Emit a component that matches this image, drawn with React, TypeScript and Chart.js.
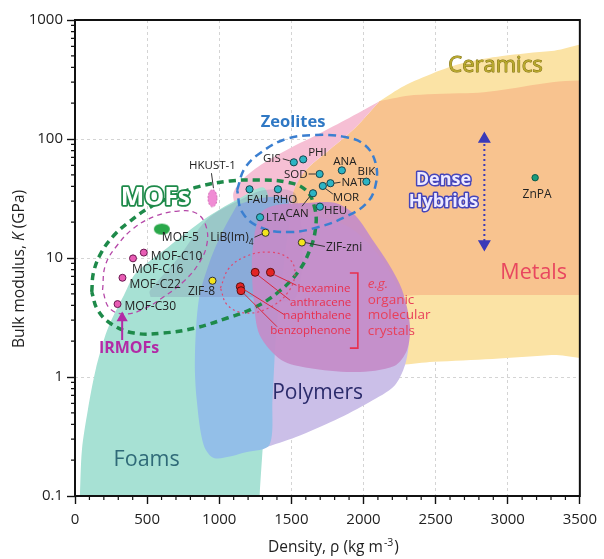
import { useEffect, useRef } from "react";
import { Chart, registerables } from "chart.js";

Chart.register(...registerables);

const FONT = "'Open Sans', 'Noto Sans', sans-serif";

// ---------- axes ----------
const xMin = 0;
const xMax = 3500;
const xTickStep = 500;
const yTickValues = [0.1, 1, 10, 100, 1000];
const yTickLabels = ["0.1", "1", "10", "100", "1000"];

// ---------- material families (density kg/m3, bulk modulus GPa) ----------
const zeoliteNames = ["GIS", "PHI", "ANA", "SOD", "NAT", "MOR", "BIK", "FAU", "RHO", "CAN", "HEU", "LTA"];
const zeoliteDensity = [1517, 1582, 1850, 1696, 1771, 1718, 2020, 1210, 1407, 1650, 1698, 1283];
const zeoliteModulus = [63.7, 67.4, 54.5, 50.8, 42.5, 40.3, 43.8, 37.8, 37.8, 35.0, 27.0, 22.0];

const zifNames = ["LiB(Im)4", "ZIF-zni", "ZIF-8"];
const zifDensity = [1321, 1573, 953];
const zifModulus = [16.3, 13.5, 6.44];

const organicNames = ["hexamine", "anthracene", "naphthalene", "benzophenone"];
const organicDensity = [1355, 1249, 1146, 1151];
const organicModulus = [7.58, 7.58, 5.74, 5.31];

const irmofNames = ["MOF-C10", "MOF-C16", "MOF-C22", "MOF-C30"];
const irmofDensity = [477, 402, 329, 295];
const irmofModulus = [11.1, 9.93, 6.82, 4.1];

const mof5Names = ["MOF-5"];
const mof5Density = [602];
const mof5Modulus = [17.5];

const hkustNames = ["HKUST-1"];
const hkustDensity = [953];
const hkustModulus = [31.8];

const znpaNames = ["ZnPA"];
const znpaDensity = [3190];
const znpaModulus = [47.3];

// ---------- property-space regions [density, modulus] ----------
const ceramicsRegion = [[2111, 208], [2281, 279], [2486, 359], [2690, 435], [2962, 498], [3303, 549], [3711, 593], [3711, 1.62], [3303, 1.53], [2894, 1.42], [2486, 1.34], [2261, 1.26], [1805, 1.15], [1737, 11.7], [1805, 66.7], [2111, 208]];
const metalsRegion = [[2111, 208], [2349, 234], [2758, 244], [3711, 253], [3711, 4.89], [3500, 4.89], [3000, 4.89], [2400, 4.89], [1737, 4.89], [1532, 17.2], [1512, 37.3], [1600, 54.8], [1737, 76.3], [1941, 124], [2111, 208]];
const zeoliteRegion = [[2111, 208], [1873, 144.5], [1648, 104], [1532, 89.1], [1308, 62.8], [1158, 45.2], [1096, 33.8], [1158, 23.0], [1464, 23.0], [1519, 37.3], [1600, 54.8], [1737, 76.3], [1941, 124], [2111, 208]];
const foamRegion = [[27, 0.063], [34, 0.1], [48, 0.244], [89, 0.528], [143, 1.15], [211, 2.25], [259, 3.13], [340, 4.89], [422, 7.48], [647, 12.4], [919, 22.1], [1158, 32.6], [1314, 38.7], [1369, 17.2], [1342, 4.43], [1328, 0.944], [1308, 0.338], [1280, 0.1], [1274, 0.063], [27, 0.063]];
const polymerRegion = [[1308, 0.253], [1532, 0.313], [1805, 0.435], [2043, 0.617], [2213, 0.84], [2288, 1.26], [2315, 2.05], [2295, 3.66], [2213, 6.5], [2077, 11.7], [1873, 18.9], [1532, 23.0], [1308, 17.2], [1308, 0.253]];
const elastomerRegion = [[1124, 27.9], [1294, 31.9], [1478, 30.7], [1451, 9.6], [1396, 2.48], [1369, 0.641], [1348, 0.268], [1192, 0.234], [967, 0.208], [892, 0.268], [844, 0.641], [831, 1.39], [858, 4.43], [933, 9.25], [1028, 17.2], [1124, 27.9]];
const hybridOverlayRegion = [[524, 4.7], [518, 5.28], [715, 10], [919, 21.3], [1158, 31.3], [1314, 37.3], [1532, 33.8], [1532, 4.7], [1200, 4.7], [800, 4.7], [524, 4.7]];
const organicRegion = [[1246, 16.5], [1226, 9.6], [1239, 4.43], [1280, 2.25], [1430, 1.39], [1621, 1.19], [1941, 1.1], [2213, 1.24], [2302, 1.69], [2322, 2.74], [2268, 5.38], [2179, 8.73], [2077, 13.4], [1941, 23.0], [1805, 29.0], [1600, 29.0], [1396, 27.9], [1294, 24.4], [1246, 16.5]];

// ---------- dashed envelopes ----------
const mofEnvelope = [[116, 5.18], [129, 7.62], [184, 11.2], [272, 15.6], [375, 20.1], [511, 26.3], [681, 33.2], [851, 39.6], [1076, 44.4], [1273, 45.2], [1464, 43.5], [1600, 37.3], [1662, 26.3], [1668, 17.9], [1628, 11.7], [1546, 7.62], [1410, 5.18], [1239, 3.8], [1056, 3.13], [831, 2.58], [613, 2.34], [409, 2.34], [252, 2.79], [157, 3.66], [116, 5.18]];
const irmofEnvelope = [[191, 5.38], [211, 8.73], [293, 12.8], [409, 17.9], [558, 22.5], [715, 24.8], [838, 23.9], [906, 18.9], [913, 12.8], [851, 8.73], [749, 6.28], [613, 4.7], [477, 3.73], [340, 3.38], [238, 3.8], [191, 5.38]];
const zeoliteEnvelope = [[1124, 37.3], [1178, 57.0], [1294, 77.8], [1464, 100], [1668, 108], [1873, 104], [2009, 89.1], [2084, 62.8], [2084, 41.0], [2023, 29.0], [1873, 22.1], [1689, 18.2], [1485, 16.5], [1280, 18.2], [1158, 24.4], [1124, 37.3]];
const organicEnvelope = [[1008, 5.6], [1069, 8.24], [1192, 10.4], [1342, 11.2], [1478, 10.0], [1525, 7.62], [1478, 5.18], [1342, 3.8], [1178, 3.45], [1056, 4.03], [1008, 5.6]];

// ---------- arrows ----------
const denseHybridRange = [[2838, 100], [2838, 13.1]];
const irmofArrow = [[327, 2.05], [327, 3.13]];

// ---------- text anchors (data coordinates) ----------
const regionLabelText = ["Ceramics", "Zeolites", "MOFs", "Dense", "Hybrids", "Metals", "Polymers", "Foams", "IRMOFs"];
const regionLabelX = [2915, 1512, 558, 2554, 2554, 3180, 1682, 497, 375];
const regionLabelY = [410, 139, 31.8, 45.2, 29.6, 7.48, 0.734, 0.201, 1.75];
const organicNoteLines = ["e.g.", "organic", "molecular", "crystals"];
const organicNoteAnchor = [2029, 6.05];
const organicBracket = [1961, 7.48, 1.75];

// ---------- label layout (pixel offsets from marks) ----------
type Lay = { dx: number; dy: number; align: CanvasTextAlign; leader?: number[] };
const zeoliteLayout: Lay[] = [
  { dx: -13, dy: -4, align: "right", leader: [-11, -3.5, -4, -1.5] },
  { dx: 5, dy: -7, align: "left" },
  { dx: 3, dy: -9, align: "center" },
  { dx: -12, dy: 1, align: "right", leader: [-11, 0, -4, 0] },
  { dx: 11, dy: -1, align: "left", leader: [3.5, 0, 10, -1] },
  { dx: 10, dy: 11.5, align: "left", leader: [2.5, 2.5, 10, 8] },
  { dx: 0, dy: -10, align: "center" },
  { dx: 8, dy: 10, align: "center" },
  { dx: 7, dy: 10, align: "center" },
  { dx: -16, dy: 20, align: "center", leader: [-11, 13, -3, 3] },
  { dx: 4, dy: 4, align: "left" },
  { dx: 6, dy: 0, align: "left" },
];
const zifLayout: Lay[] = [
  { dx: -12, dy: 5, align: "right", leader: [-11, 4.5, -3, 1] },
  { dx: 24, dy: 5, align: "left", leader: [3, 0, 23, 4] },
  { dx: -11, dy: 11, align: "center" },
];
const organicLayout: Lay[] = [
  { dx: 80, dy: 16, align: "right", leader: [3, 2, 26, 13] },
  { dx: 96, dy: 30, align: "right", leader: [3, 3, 35, 28] },
  { dx: 111, dy: 29, align: "right", leader: [4, 3, 44, 28] },
  { dx: 110, dy: 40, align: "right", leader: [3, 3, 36, 36] },
];
const irmofLayout: Lay[] = [
  { dx: 7, dy: 4, align: "left" },
  { dx: -1, dy: 11, align: "left" },
  { dx: 7, dy: 7, align: "left" },
  { dx: 7, dy: 2, align: "left" },
];
const mof5Layout: Lay[] = [{ dx: 0, dy: 8, align: "left" }];
const hkustLayout: Lay[] = [{ dx: 0, dy: -32, align: "center", leader: [-1, -25, 1, -10] }];
const znpaLayout: Lay[] = [{ dx: 2, dy: 17, align: "center" }];

type RStyle = { size: number; bold?: boolean; fill: string; stroke?: string; sw?: number };
const regionLabelStyle: Record<string, RStyle> = {
  Ceramics: { size: 22, fill: "#b8a82c", stroke: "#7a6c10", sw: 0.9 },
  Zeolites: { size: 16.5, bold: true, fill: "#2f78c4" },
  MOFs: { size: 25, bold: true, fill: "#ffffff", stroke: "#1e8a4a", sw: 3.5 },
  Dense: { size: 18, bold: true, fill: "#eeeaff", stroke: "#4545bb", sw: 3 },
  Hybrids: { size: 18, bold: true, fill: "#eeeaff", stroke: "#4545bb", sw: 3 },
  Metals: { size: 21.5, fill: "#e8475f" },
  Polymers: { size: 21, fill: "#2b2b6b" },
  Foams: { size: 21.5, fill: "#2f6a78" },
  IRMOFs: { size: 16, bold: true, fill: "#b22aa6" },
};

const poly = (arr: number[][]) => arr.map(([x, y]) => ({ x, y }));
const pts = (xs: number[], ys: number[]) => xs.map((x, i) => ({ x, y: ys[i] }));

function drawText(ctx: CanvasRenderingContext2D, s: string, x: number, y: number, font: string, color: string, align: CanvasTextAlign, stroke?: string, sw?: number) {
  ctx.font = font;
  ctx.textAlign = align;
  ctx.textBaseline = "middle";
  if (stroke) {
    ctx.lineJoin = "round";
    ctx.strokeStyle = stroke;
    ctx.lineWidth = sw || 1;
    ctx.strokeText(s, x, y);
  }
  ctx.fillStyle = color;
  ctx.fillText(s, x, y);
}

const annotations = {
  id: "annotations",
  afterDraw(chart: any) {
    const { ctx, chartArea: a, scales } = chart;
    const X = (v: number) => scales.x.getPixelForValue(v);
    const Y = (v: number) => scales.y.getPixelForValue(v);
    ctx.save();

    // minor ticks
    ctx.strokeStyle = "#111";
    ctx.lineWidth = 1.2;
    ctx.beginPath();
    for (let v = 100; v < xMax; v += 100) {
      if (v % xTickStep === 0) continue;
      const p = X(v);
      ctx.moveTo(p, a.bottom);
      ctx.lineTo(p, a.bottom + 4);
    }
    for (let d = 0; d < 4; d++) {
      for (let k = 2; k < 10; k++) {
        const p = Y(yTickValues[d] * k);
        ctx.moveTo(a.left - 4, p);
        ctx.lineTo(a.left, p);
      }
    }
    ctx.stroke();

    // frame
    ctx.lineWidth = 2;
    ctx.strokeStyle = "#111";
    ctx.strokeRect(a.left, a.top, a.right - a.left, a.bottom - a.top);

    // point labels
    const group = (names: string[], xs: number[], ys: number[], lay: Lay[], size: number, color: string, leaderColor: string) => {
      names.forEach((name, i) => {
        const px = X(xs[i]);
        const py = Y(ys[i]);
        const L = lay[i];
        if (L.leader) {
          ctx.strokeStyle = leaderColor;
          ctx.lineWidth = 1;
          ctx.beginPath();
          ctx.moveTo(px + L.leader[0], py + L.leader[1]);
          ctx.lineTo(px + L.leader[2], py + L.leader[3]);
          ctx.stroke();
        }
        const m = name.match(/^(.*\))(\d)$/);
        if (m) {
          ctx.font = `${size}px ${FONT}`;
          const w1 = ctx.measureText(m[1]).width;
          ctx.font = `${size * 0.7}px ${FONT}`;
          const w2 = ctx.measureText(m[2]).width;
          const tot = w1 + w2;
          let sx = px + L.dx;
          if (L.align === "right") sx -= tot;
          else if (L.align === "center") sx -= tot / 2;
          drawText(ctx, m[1], sx, py + L.dy, `${size}px ${FONT}`, color, "left");
          drawText(ctx, m[2], sx + w1, py + L.dy + 5, `${size * 0.7}px ${FONT}`, color, "left");
        } else {
          drawText(ctx, name, px + L.dx, py + L.dy, `${size}px ${FONT}`, color, L.align);
        }
      });
    };
    group(zeoliteNames, zeoliteDensity, zeoliteModulus, zeoliteLayout, 11.5, "#222", "#333");
    group(zifNames, zifDensity, zifModulus, zifLayout, 12, "#222", "#333");
    group(organicNames, organicDensity, organicModulus, organicLayout, 11.5, "#e8304e", "#d8283e");
    group(irmofNames, irmofDensity, irmofModulus, irmofLayout, 12, "#222", "#333");
    group(mof5Names, mof5Density, mof5Modulus, mof5Layout, 12, "#222", "#333");
    group(hkustNames, hkustDensity, hkustModulus, hkustLayout, 11.5, "#222", "#333");
    group(znpaNames, znpaDensity, znpaModulus, znpaLayout, 12, "#222", "#333");

    // organic note + bracket
    const bx = X(organicBracket[0]);
    const bt = Y(organicBracket[1]);
    const bb = Y(organicBracket[2]);
    ctx.strokeStyle = "#e8304e";
    ctx.lineWidth = 1.6;
    ctx.beginPath();
    ctx.moveTo(bx - 8, bt);
    ctx.lineTo(bx, bt);
    ctx.lineTo(bx, bb);
    ctx.lineTo(bx - 8, bb);
    ctx.stroke();
    const nx = X(organicNoteAnchor[0]);
    const ny = Y(organicNoteAnchor[1]);
    organicNoteLines.forEach((s, i) => {
      const f = i === 0 ? `italic 13.5px ${FONT}` : `13.5px ${FONT}`;
      drawText(ctx, s, nx, ny + i * 15.7, f, "#e8405a", "left");
    });

    // region names
    regionLabelText.forEach((s, i) => {
      const st = regionLabelStyle[s];
      const f = `${st.bold ? "bold " : ""}${st.size}px ${FONT}`;
      drawText(ctx, s, X(regionLabelX[i]), Y(regionLabelY[i]), f, st.fill, "center", st.stroke, st.sw);
    });

    // axis titles
    const f1 = `15.5px ${FONT}`;
    const fs = `10.5px ${FONT}`;
    const xt1 = "Density, \u03c1 (kg m";
    const xt2 = "-3";
    const xt3 = ")";
    ctx.font = f1;
    const w1 = ctx.measureText(xt1).width;
    const w3 = ctx.measureText(xt3).width;
    ctx.font = fs;
    const w2 = ctx.measureText(xt2).width;
    const sx = (a.left + a.right) / 2 + 5 - (w1 + w2 + w3) / 2;
    const ty = a.bottom + 52;
    drawText(ctx, xt1, sx, ty, f1, "#222", "left");
    drawText(ctx, xt2, sx + w1 + 1, ty - 5, fs, "#222", "left");
    drawText(ctx, xt3, sx + w1 + w2 + 2, ty, f1, "#222", "left");

    ctx.save();
    ctx.translate(20, (a.top + a.bottom) / 2 + 11);
    ctx.rotate(-Math.PI / 2);
    const yt1 = "Bulk modulus, ";
    const yt2 = "K";
    const yt3 = " (GPa)";
    const fi = `italic 15.5px ${FONT}`;
    ctx.font = f1;
    const v1 = ctx.measureText(yt1).width;
    const v3 = ctx.measureText(yt3).width;
    ctx.font = fi;
    const v2 = ctx.measureText(yt2).width;
    const s0 = -(v1 + v2 + v3) / 2;
    drawText(ctx, yt1, s0, 0, f1, "#222", "left");
    drawText(ctx, yt2, s0 + v1, 0, fi, "#222", "left");
    drawText(ctx, yt3, s0 + v1 + v2, 0, f1, "#222", "left");
    ctx.restore();

    ctx.restore();
  },
};

function blobCanvas(w: number, h: number, fill: string, stroke?: string) {
  const c = document.createElement("canvas");
  c.width = w;
  c.height = h;
  const g = c.getContext("2d")!;
  g.beginPath();
  g.ellipse(w / 2, h / 2, w / 2 - 1, h / 2 - 1, 0, 0, Math.PI * 2);
  g.fillStyle = fill;
  g.fill();
  if (stroke) {
    g.setLineDash([2, 1.5]);
    g.strokeStyle = stroke;
    g.lineWidth = 1;
    g.stroke();
  }
  return c;
}

export default function App() {
  const ref = useRef<HTMLCanvasElement>(null);
  useEffect(() => {
    document.body.style.margin = "0";
    const canvas = ref.current!;
    const area = (data: number[][], color: string, order: number) => ({
      data: poly(data),
      fill: "shape",
      backgroundColor: color,
      borderWidth: 0,
      pointRadius: 0,
      tension: 0.3,
      capBezierPoints: false,
      order,
    });
    const dashed = (data: number[][], color: string, width: number, dash: number[], order: number) => ({
      data: poly(data),
      fill: false,
      borderColor: color,
      borderWidth: width,
      borderDash: dash,
      pointRadius: 0,
      tension: 0.4,
      capBezierPoints: false,
      order,
    });
    const dots = (xs: number[], ys: number[], fill: string, stroke: string, r: number, order: number) => ({
      data: pts(xs, ys),
      showLine: false,
      pointRadius: r,
      pointBackgroundColor: fill,
      pointBorderColor: stroke,
      pointBorderWidth: 1,
      order,
    });

    const chart = new Chart(canvas, {
      type: "line",
      data: {
        datasets: [
          area(ceramicsRegion, "#fbe3a5", 100),
          area(metalsRegion, "#f8c38f", 99),
          area(zeoliteRegion, "#f6bfd4", 98),
          area(foamRegion, "#a7e1d4", 97),
          area(polymerRegion, "#cbbfe8", 96),
          area(elastomerRegion, "#93bfe8", 95),
          area(hybridOverlayRegion, "rgba(95,80,140,0.17)", 94),
          area(organicRegion, "rgba(196,140,200,0.93)", 93),
          dashed(mofEnvelope, "#1e8a4a", 3.5, [7, 5], 50),
          dashed(irmofEnvelope, "#b548a8", 1.3, [5, 4], 49),
          dashed(zeoliteEnvelope, "#3b7fd0", 2.5, [8, 5], 48),
          dashed(organicEnvelope, "#e04870", 1.2, [2, 3], 47),
          {
            data: poly(denseHybridRange),
            borderColor: "#3a3ab8",
            borderWidth: 2,
            borderDash: [2, 3],
            pointStyle: "triangle",
            pointRadius: 5.5,
            pointRotation: [0, 180],
            pointBackgroundColor: "#3a3ab8",
            pointBorderColor: "#3a3ab8",
            order: 40,
          },
          {
            data: poly(irmofArrow),
            borderColor: "#b22aa6",
            borderWidth: 2,
            pointStyle: "triangle",
            pointRadius: [0, 4.5],
            pointBackgroundColor: "#b22aa6",
            pointBorderColor: "#b22aa6",
            order: 39,
          },
          dots(zeoliteDensity, zeoliteModulus, "#2cb4c4", "#17424a", 3.6, 5),
          dots(zifDensity, zifModulus, "#f3e41c", "#333333", 3.6, 5),
          dots(organicDensity, organicModulus, "#e32424", "#5a1010", 4, 5),
          dots(irmofDensity, irmofModulus, "#e85cb4", "#6a1850", 3.5, 5),
          dots(znpaDensity, znpaModulus, "#1a9c7c", "#0d5a48", 3.2, 5),
          {
            data: pts(mof5Density, mof5Modulus),
            showLine: false,
            pointRadius: 8,
            pointStyle: blobCanvas(18, 13, "#2aa84a"),
            order: 6,
          },
          {
            data: pts(hkustDensity, hkustModulus),
            showLine: false,
            pointRadius: 8,
            pointStyle: blobCanvas(11, 19, "#f08cd4", "#d060b0"),
            order: 6,
          },
        ] as any,
      },
      options: {
        animation: false,
        responsive: true,
        maintainAspectRatio: false,
        devicePixelRatio: 1,
        events: [],
        layout: { padding: { top: 20, right: 15, left: 0, bottom: 0 } },
        plugins: { legend: { display: false }, tooltip: { enabled: false } },
        scales: {
          x: {
            type: "linear",
            min: xMin,
            max: xMax,
            z: 1,
            afterFit: (s: any) => {
              s.height = 63;
            },
            ticks: {
              stepSize: xTickStep,
              autoSkip: false,
              maxRotation: 0,
              padding: 7,
              color: "#222",
              font: { family: FONT, size: 15 },
              callback: (v: any) => String(v),
            },
            grid: {
              color: (c: any) => (c.tick && (c.tick.value <= xMin || c.tick.value >= xMax) ? "rgba(0,0,0,0)" : "rgba(0,0,0,0.17)"),
              lineWidth: 1,
              tickColor: "#111",
              tickLength: 8,
              tickWidth: 1.4,
            },
            border: { display: false, dash: [3, 3] },
          },
          y: {
            type: "logarithmic",
            min: 0.1,
            max: 1000,
            z: 1,
            afterFit: (s: any) => {
              s.width = 75;
            },
            afterBuildTicks: (s: any) => {
              s.ticks = yTickValues.map((v) => ({ value: v }));
            },
            ticks: {
              autoSkip: false,
              padding: 4,
              color: "#222",
              font: { family: FONT, size: 15 },
              callback: (v: any) => {
                const i = yTickValues.indexOf(Number(v));
                return i >= 0 ? yTickLabels[i] : "";
              },
            },
            grid: {
              color: (c: any) => (c.tick && (c.tick.value <= 0.1 || c.tick.value >= 1000) ? "rgba(0,0,0,0)" : "rgba(0,0,0,0.17)"),
              lineWidth: 1,
              tickColor: "#111",
              tickLength: 8,
              tickWidth: 1.4,
            },
            border: { display: false, dash: [3, 3] },
          },
        },
      } as any,
      plugins: [annotations],
    });
    return () => chart.destroy();
  }, []);
  return (
    <div style={{ width: 604, height: 559, position: "relative" }}>
      <canvas ref={ref} />
    </div>
  );
}
